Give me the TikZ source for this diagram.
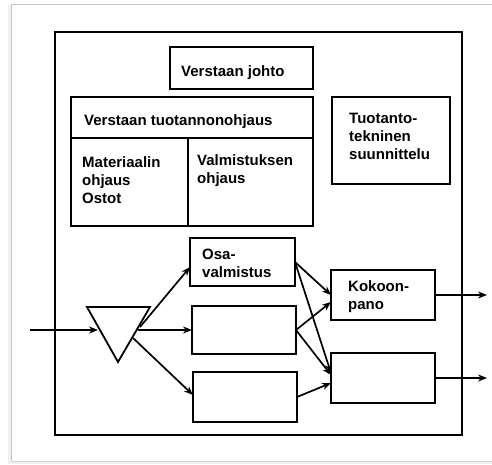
\documentclass[tikz,border=0pt]{standalone}
\usepackage{fontspec}
\setmainfont{Liberation Sans}
\usetikzlibrary{arrows.meta}
\begin{document}
\begin{tikzpicture}[x=1pt,y=1pt,
  box/.style={draw,line width=1.8pt,inner sep=0pt,outer sep=0pt},
  lbl/.style={anchor=north west,inner sep=0pt,align=left,font=\fontsize{15}{18}\selectfont\bfseries},
  arr/.style={line width=1.7pt,-{Stealth[length=9pt,width=7pt]}}]
\useasboundingbox (0,0) rectangle (492,464);
% paper frame with soft shadow
\fill[gray!12] (8,0) rectangle (492,459);
\fill[white] (12,3) rectangle (492,459);
\draw[gray!45,line width=1pt] (11,2) -- (11,459) -- (492,459);
\draw[gray!35,line width=1.5pt] (11,2.5) -- (492,2.5);
% big frame
\draw[line width=1.8pt] (55,432) rectangle (462,29);
% boxes: coordinates in px (y measured from the top)
\def\bx#1#2#3#4#5{\node[box,minimum width=#4-#2,minimum height=#5-#3] (#1) at ({(#2+#4)/2},{464-(#3+#5)/2}) {};}
\bx{johto}{170}{47}{313}{89}
\bx{tuot}{71}{97}{313}{138}
\bx{mat}{71}{138}{188}{226}
\bx{valm}{188}{138}{313}{226}
\bx{tekn}{332}{97}{450}{184}
\bx{osa}{190}{238}{295}{286}
\bx{mid}{192}{306}{296}{354}
\bx{bot}{193}{372}{297}{422}
\bx{koko}{331}{270}{435}{320}
\bx{low}{331}{353}{435}{403}
% labels
\node[lbl] (tjohto) at (181,464-65) {Verstaan johto};
\node[lbl] (ttuot) at (84,464-114) {Verstaan tuotannonohjaus};
\node[lbl] (tmat) at (82,464-156) {Materiaalin\\ohjaus\\Ostot};
\node[lbl] (tvalm) at (197,464-154) {Valmistuksen\\ohjaus};
\node[lbl] (ttekn) at (349,464-113) {Tuotanto-\\tekninen\\suunnittelu};
\node[lbl] (tosa) at (202,464-249) {Osa-\\valmistus};
\node[lbl] (tkoko) at (348,464-280) {Kokoon-\\pano};
% triangle (storage)
\draw[line width=1.8pt,line join=miter] (87,464-307) -- (150,464-307) -- (118,464-362) -- cycle;
\coordinate (in) at (30,464-330);
\coordinate (triin) at (98,464-330);
\coordinate (tria) at (140,464-327);
\coordinate (trib) at (138,464-330);
\coordinate (tric) at (133,464-338);
\coordinate (out1) at (487,464-295);
\coordinate (out2) at (487,464-378);
\draw[arr] (in) -- (triin);
\draw[arr] (tria) -- ([yshift=-5pt]osa.west);
\draw[arr] (trib) -- (mid.west);
\draw[arr] (tric) -- ([yshift=2pt]bot.west);
\draw[arr] (osa.east) -- (koko.west);
\draw[arr] (osa.east) -- ([yshift=5pt]low.west);
\draw[arr] (mid.east) -- ([yshift=-7pt]koko.west);
\draw[arr] (mid.east) -- ([yshift=3pt]low.west);
\draw[arr] (bot.east) -- ([yshift=-5pt]low.west);
\draw[arr] (koko.east) -- (out1);
\draw[arr] (low.east) -- (out2);
\end{tikzpicture}
\end{document}
